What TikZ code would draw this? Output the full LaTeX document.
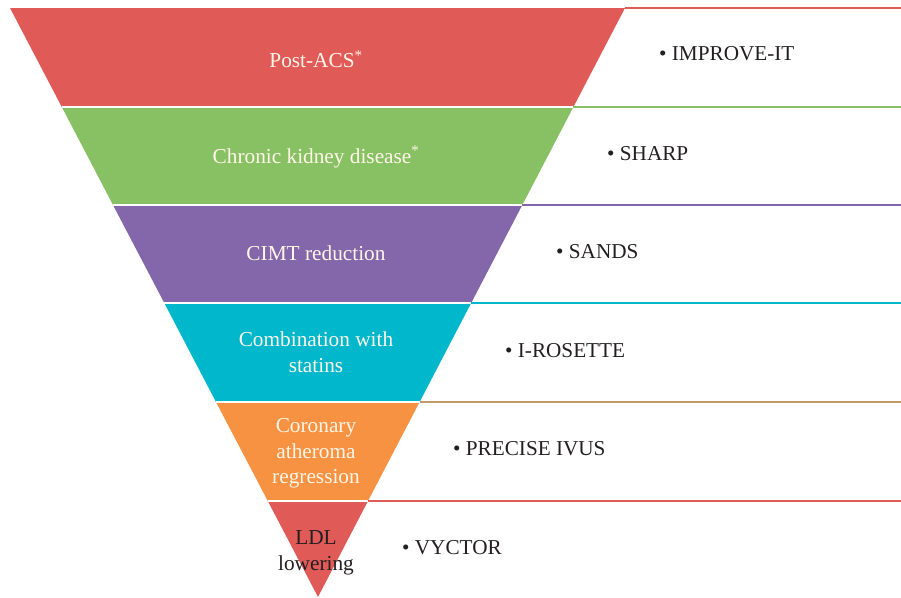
\documentclass[tikz,border=0pt]{standalone}
\usepackage{fontspec}
\setmainfont{Liberation Serif}
\begin{document}
\begin{tikzpicture}[x=1pt,y=-1pt,
  bandtext/.style={text=lightcream,align=center,font=\fontsize{21.3}{25.5}\selectfont,inner sep=0pt},
  sep/.style={line width=1.6pt},
  item/.style={anchor=west,inner sep=0pt,text=textdark,font=\fontsize{21.2}{24}\selectfont}]
\definecolor{cRed}{HTML}{E05A57}
\definecolor{cGreen}{HTML}{88C164}
\definecolor{cPurple}{HTML}{8466AA}
\definecolor{cCyan}{HTML}{00B7CC}
\definecolor{cOrange}{HTML}{F79243}
\definecolor{cTan}{HTML}{C49A6C}
\definecolor{lightcream}{HTML}{FFF6E8}
\definecolor{textdark}{HTML}{231F20}
\useasboundingbox (0,0) rectangle (901,597);
% corners
\coordinate (L0) at (10,8);    \coordinate (R0) at (625,8);
\coordinate (L1) at (61.8,107);  \coordinate (R1) at (573.4,107);
\coordinate (L2) at (113.0,205); \coordinate (R2) at (522.3,205);
\coordinate (L3) at (164.3,303); \coordinate (R3) at (471.2,303);
\coordinate (L4) at (216.0,402); \coordinate (R4) at (419.6,402);
\coordinate (L5) at (267.8,501); \coordinate (R5) at (368.0,501);
\coordinate (A) at (318,597);
\coordinate (E0) at (901,8);
\coordinate (E1) at (901,107);
\coordinate (E2) at (901,205);
\coordinate (E3) at (901,303);
\coordinate (E4) at (901,402);
\coordinate (E5) at (901,501);
% bands
\fill[cRed] (L0) -- (R0) -- (R1) -- (L1) -- cycle;
\fill[cGreen] (L1) -- (R1) -- (R2) -- (L2) -- cycle;
\fill[cPurple] (L2) -- (R2) -- (R3) -- (L3) -- cycle;
\fill[cCyan] (L3) -- (R3) -- (R4) -- (L4) -- cycle;
\fill[cOrange] (L4) -- (R4) -- (R5) -- (L5) -- cycle;
\fill[cRed] (L5) -- (R5) -- (A) -- cycle;
\draw[white,line width=1.6pt] (L1) -- (R1) (L2) -- (R2) (L3) -- (R3) (L4) -- (R4) (L5) -- (R5);
% separator lines
\draw[sep,cRed] (R0) -- (E0);
\draw[sep,cGreen] (R1) -- (E1);
\draw[sep,cPurple] (R2) -- (E2);
\draw[sep,cCyan] (R3) -- (E3);
\draw[sep,cTan] (R4) -- (E4);
\draw[sep,cRed] (R5) -- (E5);
% band texts
\node[bandtext] (t1) at (316,59) {Post-ACS\textsuperscript{*}};
\node[bandtext] (t2) at (316,157) {Chronic kidney disease\textsuperscript{*}};
\node[bandtext] (t3) at (316,253) {CIMT reduction};
\node[bandtext] (t4) at (316,352) {Combination with\\statins};
\node[bandtext] (t5) at (316,453.5) {Coronary\\atheroma\\regression};
\node[bandtext,text=textdark] (t6) at (316,553) {LDL\\lowering};
% items
\node[item] (i1) at (659,54) {\textbullet\ IMPROVE-IT};
\node[item] (i2) at (607,153.5) {\textbullet\ SHARP};
\node[item] (i3) at (556,251.5) {\textbullet\ SANDS};
\node[item] (i4) at (505,350.5) {\textbullet\ I-ROSETTE};
\node[item] (i5) at (453,448.5) {\textbullet\ PRECISE IVUS};
\node[item] (i6) at (402,547.5) {\textbullet\ VYCTOR};
\end{tikzpicture}
\end{document}
